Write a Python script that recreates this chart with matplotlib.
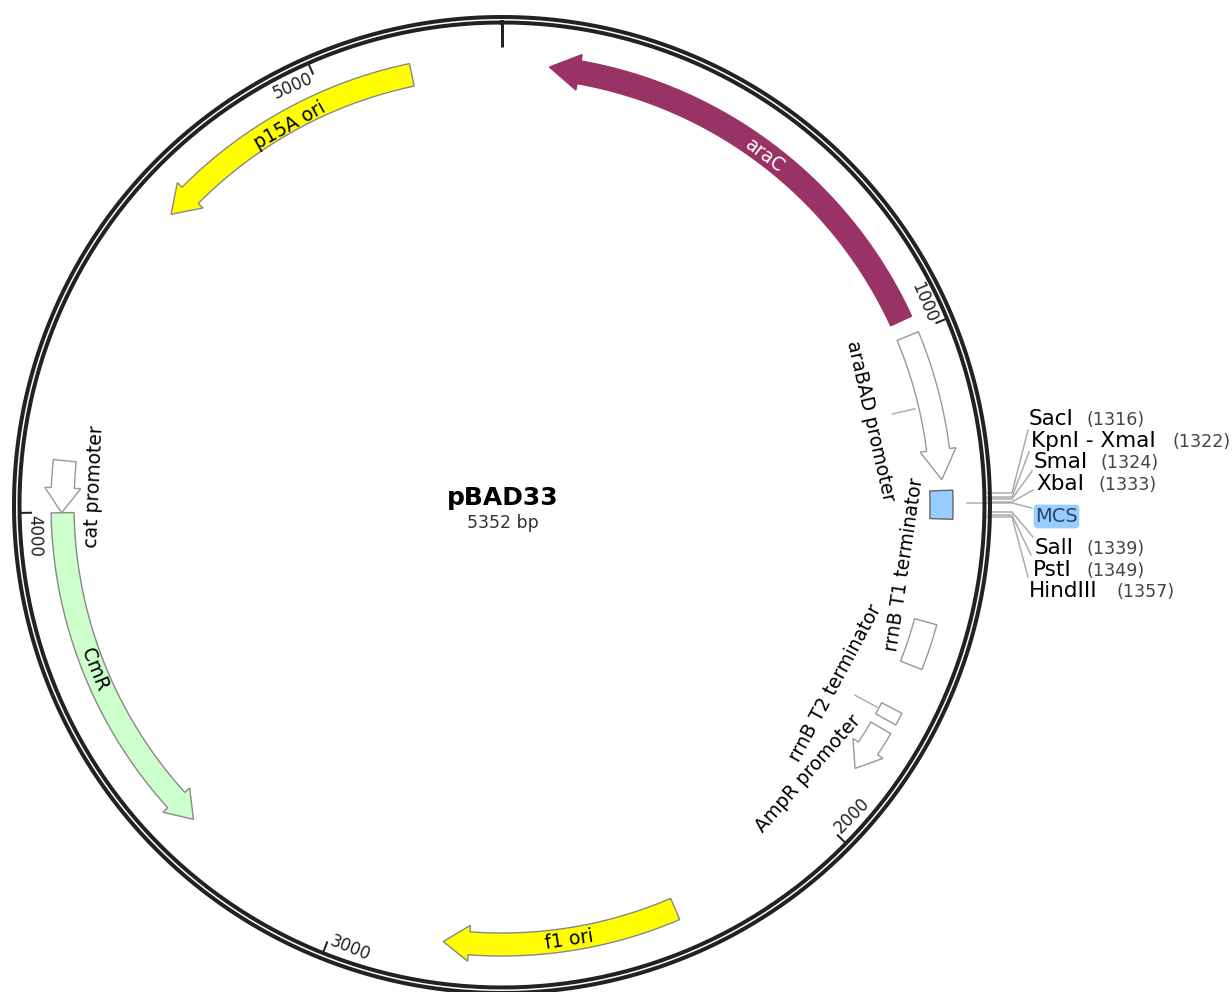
import numpy as np
import matplotlib
matplotlib.use('Agg')
import matplotlib.pyplot as plt
from matplotlib.patches import Polygon, FancyBboxPatch

plt.rcParams['font.family'] = ['DejaVu Sans']

# Plasmid
PLASMID_NAME = 'pBAD33'
PLASMID_BP = 5352
RULER_TICKS = [0, 1000, 2000, 3000, 4000, 5000]

# Features, start is the tail and end the tip of each arrow
FEATURE_START = [970, 1002, 1310, 1567, 1747, 1791, 2331, 3999, 4100, 5176]
FEATURE_END = [92, 1289, 1365, 1656, 1772, 1884, 2790, 3337, 3999, 4628]
FEATURE_HEAD = [58, 58, 0, 0, 0, 46, 50, 50, 48, 52]
FEATURE_FILL = ['#993366', '#ffffff', '#99ccff', '#ffffff', '#ffffff',
                '#ffffff', '#ffff00', '#ccffcc', '#ffffff', '#ffff00']
FEATURE_EDGE = ['#993366', '#999999', '#666666', '#999999', '#999999',
                '#999999', '#888888', '#888888', '#999999', '#888888']

# Feature labels, placed by bp and radius
LABEL_TEXT = ['araC', 'araBAD promoter', 'rrnB T1 terminator', 'rrnB T2 terminator',
              'AmpR promoter', 'f1 ori', 'CmR', 'cat promoter', 'p15A ori']
LABEL_BP = [550, 1148, 1463, 1756, 1952, 2545, 3687, 4052, 4918]
LABEL_R = [437, 378, 407, 378, 407, 440, 440, 408, 435]
LABEL_COLOR = ['white', 'black', 'black', 'black', 'black', 'black', 'black', 'black', 'black']

# Restriction sites on the right
SITE_NAMES = ['SacI', 'KpnI - XmaI', 'SmaI', 'XbaI', 'SalI', 'PstI', 'HindIII']
SITE_POS = ['(1316)', '(1322)', '(1324)', '(1333)', '(1339)', '(1349)', '(1357)']
SITE_NAME_X = [1029, 1031, 1034, 1036, 1035, 1033, 1029]
SITE_POS_X = [1087, 1172, 1100, 1098, 1087, 1087, 1116]
SITE_Y = [419, 441, 462, 484, 548, 570, 591]
SITE_LINE_Y = [493, 497, 499, 502, 512, 515, 517]
SITE_LINE_END_X = [1028, 1029, 1032, 1033, 1033, 1031, 1028]
SITE_LINE_END_Y = [430, 452, 471, 490, 537, 555, 577]

CX, CY = 502, 505
R_IN, R_OUT = 428, 451
PT = 0.72  # points per pixel at dpi 100


def polar(bp, r):
    """bp position to picture coordinates, clockwise from the top"""
    a = 2 * np.pi * np.asarray(bp, dtype=float) / PLASMID_BP
    return CX + r * np.sin(a), CY - r * np.cos(a)


def text_rotation(bp):
    deg = 360.0 * bp / PLASMID_BP
    if 90 < deg < 270:
        return 180 - deg
    return -deg


def feature_outline(start, end, head):
    sign = 1 if end > start else -1
    base = end - sign * head
    bps = np.linspace(start, base, 80)
    x_o, y_o = polar(bps, R_OUT)
    x_i, y_i = polar(bps[::-1], R_IN)
    if head == 0:
        return np.r_[x_o, x_i], np.r_[y_o, y_i]
    mid = (R_IN + R_OUT) / 2
    xw1, yw1 = polar(base, mid + 18)
    xt, yt = polar(end, mid + 1)
    xw2, yw2 = polar(base, mid - 18)
    return (np.r_[x_o, xw1, xt, xw2, x_i], np.r_[y_o, yw1, yt, yw2, y_i])


fig = plt.figure(figsize=(12.32, 9.92), dpi=100)
ax = fig.add_axes([0, 0, 1, 1])
ax.set_xlim(0, 1232)
ax.set_ylim(992, 0)
ax.axis('off')

# Double ring
ring = np.linspace(0, PLASMID_BP, 721)
for r in (488, 482.5):
    xr, yr = polar(ring, r)
    ax.plot(xr, yr, color='#222222', lw=4 * PT, zorder=3)

# Ruler
for tick in RULER_TICKS:
    r_end = 458 if tick == 0 else 470
    x0, y0 = polar(tick, 481)
    x1, y1 = polar(tick, r_end)
    ax.plot([x0, x1], [y0, y1], color='#222222', lw=(3 if tick == 0 else 2) * PT,
            solid_capstyle='butt', zorder=3)
    if tick:
        xl, yl = polar(tick - 43, 468)
        ax.text(xl, yl, str(tick), fontsize=12, color='#222222', rotation=text_rotation(tick),
                rotation_mode='anchor', ha='center', va='center')

# Leader lines for the two inner labels
for bp, r0, r1 in [(1143, 424, 401), (1759, 426, 401)]:
    x0, y0 = polar(bp, r0)
    x1, y1 = polar(bp, r1)
    ax.plot([x0, x1], [y0, y1], color='#aaaaaa', lw=1.4 * PT)

# Features
for start, end, head, fill, edge in zip(FEATURE_START, FEATURE_END, FEATURE_HEAD,
                                        FEATURE_FILL, FEATURE_EDGE):
    xs, ys = feature_outline(start, end, head)
    ax.add_patch(Polygon(np.c_[xs, ys], closed=True, facecolor=fill, edgecolor=edge,
                         lw=1.4 * PT, zorder=4))

for name, bp, r, color in zip(LABEL_TEXT, LABEL_BP, LABEL_R, LABEL_COLOR):
    xl, yl = polar(bp, r)
    ax.text(xl, yl, name, fontsize=13.5, color=color, rotation=text_rotation(bp),
            rotation_mode='anchor', ha='center', va='center', zorder=5)

# Site leader lines, the MCS one starts inside the ring
for y0, xe, ye in zip(SITE_LINE_Y, SITE_LINE_END_X, SITE_LINE_END_Y):
    ax.plot([988, 1012, xe], [y0, y0, ye], color='#aaaaaa', lw=1.5 * PT, zorder=2)
ax.plot([967, 1012, 1032], [503, 503, 508], color='#aaaaaa', lw=1.5 * PT, zorder=2)

for name, pos, xn, xp, y in zip(SITE_NAMES, SITE_POS, SITE_NAME_X, SITE_POS_X, SITE_Y):
    ax.text(xn, y, name, fontsize=15.5, color='black', ha='left', va='center')
    ax.text(xp, y + 1, pos, fontsize=12.6, color='#444444', ha='left', va='center')

ax.add_patch(FancyBboxPatch((1036, 507), 41, 19, boxstyle='round,pad=2,rounding_size=4',
                            facecolor='#99ccff', edgecolor='#99ccff', lw=0.5))
ax.text(1056.5, 516, 'MCS', fontsize=14, color='#24466b', ha='center', va='center')

# Centre title
ax.text(503, 498, PLASMID_NAME, fontsize=18, fontweight='bold', color='black',
        ha='center', va='center')
ax.text(503, 523, f'{PLASMID_BP} bp', fontsize=12.4, color='#333333', ha='center', va='center')

fig.savefig('out.png', dpi=100, facecolor='white')
